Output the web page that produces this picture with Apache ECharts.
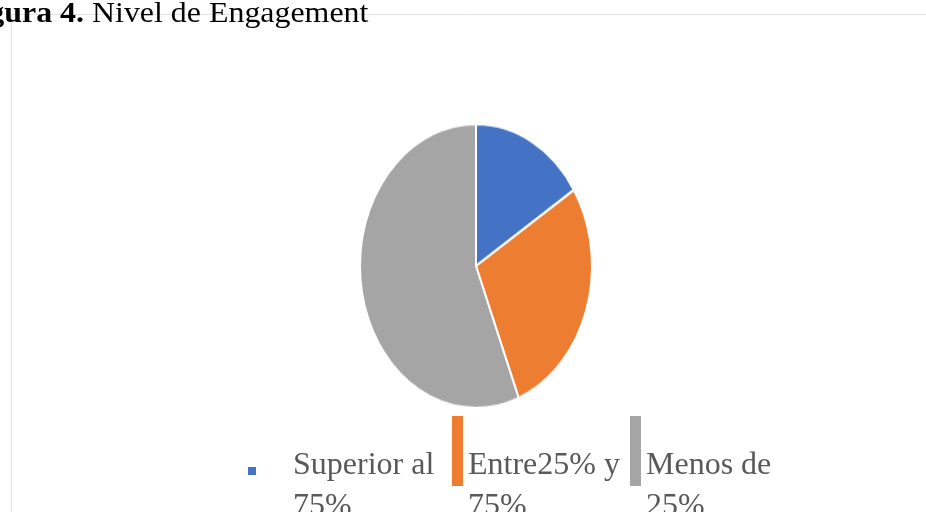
<!DOCTYPE html>
<html>
<head>
<meta charset="utf-8">
<title>Nivel de Engagement</title>
<style>
    html, body { margin: 0; padding: 0; background: #fff; overflow: hidden; }
    #wrap { position: relative; width: 926px; height: 512px; overflow: hidden; }
    #pie, #main { position: absolute; left: 0; top: 0; width: 926px; height: 512px; }
    /* el pastel original sale estirado en vertical */
    #pie { transform: scaleY(1.224); transform-origin: 476px 266px; }
</style>
</head>
<body>
<div id="wrap">
    <div id="pie"></div>
    <div id="main"></div>
</div>
<script src="https://cdn.jsdelivr.net/npm/echarts@6/dist/echarts.min.js"></script>
<script type="text/javascript">
    // datos
    var categories = ['Superior al 75%', 'Entre25% y 75%', 'Menos de 25%'];
    var values = [16, 28, 56];
    var colors = ['#4472c4', '#ed7d31', '#a5a5a5'];

    var serif = '"Liberation Serif", "Times New Roman", serif';

    var pieData = categories.map(function (name, i) {
        return { name: name, value: values[i] };
    });

    // pastel (en su propio div, escalado con css)
    var pieChart = echarts.init(document.getElementById('pie'));
    pieChart.setOption({
        animation: false,
        color: colors,
        series: [{
            type: 'pie',
            center: [476, 266],
            radius: 116,
            startAngle: 90,
            clockwise: true,
            label: { show: false },
            labelLine: { show: false },
            itemStyle: { borderColor: '#fff', borderWidth: 2 },
            emphasis: { scale: false },
            data: pieData
        }]
    });

    // iconos de la leyenda: la marca va arriba del cuadro y el resto queda vacio
    // (un trazo sin area en la esquina fija el tamaño del cuadro)
    var squareIcon = 'path://M0 0h8v8h-8z M39.99 38.99 L40 39';
    var barIcon = 'path://M0 0h11v70h-11z M10.99 140.99 L11 141';

    function legendItem(idx, left, top, icon, w, h) {
        return {
            data: [categories[idx]],
            left: left,
            top: top,
            padding: 0,
            icon: icon,
            itemWidth: w,
            itemHeight: h,
            itemStyle: { borderWidth: 0 },
            formatter: function (name) {
                return name.replace(/ (\S+)$/, '\n$1');
            },
            textStyle: {
                fontFamily: serif,
                fontSize: 32,
                lineHeight: 41,
                color: '#595959'
            }
        };
    }

    var myChart = echarts.init(document.getElementById('main'));
    var option = {
        animation: false,
        color: colors,
        graphic: [
            {
                type: 'rect',
                silent: true,
                shape: { x: 11.5, y: 14.5, width: 1000, height: 1000 },
                style: { fill: 'none', stroke: '#e4e4e4', lineWidth: 1 },
                z: 0
            },
            {
                type: 'text',
                x: -40,
                y: 0,
                scaleX: 1.1,
                z: 10,
                style: {
                    text: '{b|Figura 4.} Nivel de Engagement',
                    fontFamily: serif,
                    fontSize: 29,
                    fill: '#000',
                    verticalAlign: 'top',
                    rich: {
                        b: { fontFamily: serif, fontSize: 29, fontWeight: 'bold', fill: '#000' }
                    }
                }
            }
        ],
        legend: [
            legendItem(0, 248, 445.5, squareIcon, 40, 39),
            legendItem(1, 452, 416, barIcon, 11, 141),
            legendItem(2, 630, 416, barIcon, 11, 141)
        ],
        series: [{
            // solo para la leyenda, el pastel visible esta en #pie
            type: 'pie',
            radius: 0,
            silent: true,
            label: { show: false },
            labelLine: { show: false },
            itemStyle: { borderWidth: 0 },
            data: pieData
        }]
    };
    myChart.setOption(option);
</script>
</body>
</html>
